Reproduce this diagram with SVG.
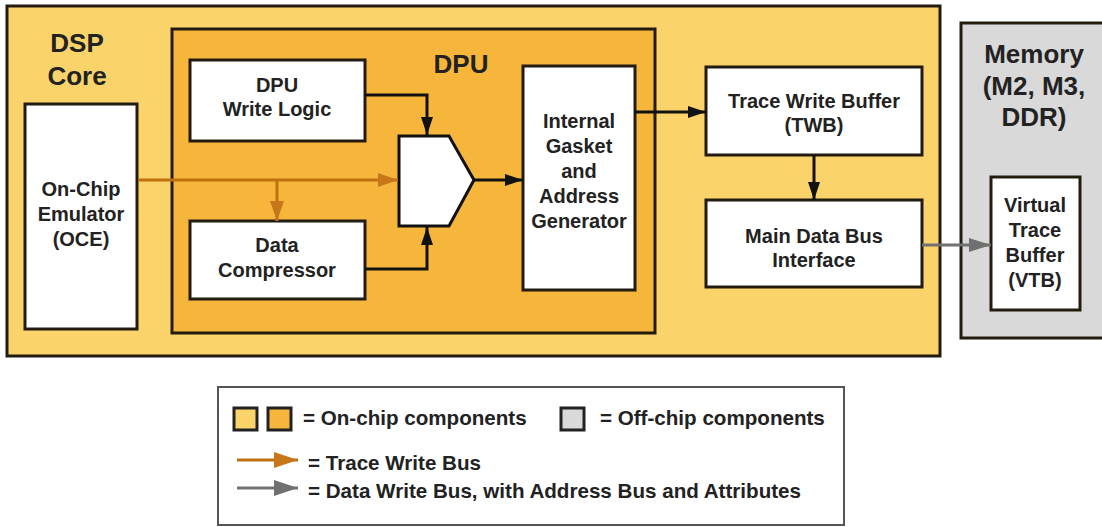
<svg xmlns="http://www.w3.org/2000/svg" width="1102" height="527" viewBox="0 0 1102 527">
<style>
text{font-family:"Liberation Sans",Arial,sans-serif;font-weight:bold;fill:#222;text-anchor:middle}
.t{font-size:20px}
.h{font-size:26px}
.l{font-size:20.6px;text-anchor:start}
.box{fill:#fff;stroke:#231a10;stroke-width:3}
.dsp{fill:#FAD46A;stroke:#231a10;stroke-width:3}
.dpu{fill:#F6B63C;stroke:#231a10;stroke-width:3}
.mem{fill:#D9D9D9;stroke:#231a10;stroke-width:3}
.k{fill:none;stroke:#111;stroke-width:3}
.o{fill:none;stroke:#C0700F;stroke-width:3}
.g{fill:none;stroke:#707070;stroke-width:3}
</style>
<defs>
<marker id="ak" markerUnits="userSpaceOnUse" markerWidth="18" markerHeight="12" refX="18" refY="6" orient="auto"><path d="M0,0 L18,6 L0,12 z" fill="#111"/></marker>
<marker id="ao" markerUnits="userSpaceOnUse" markerWidth="20" markerHeight="14" refX="20" refY="7" orient="auto"><path d="M0,0 L20,7 L0,14 z" fill="#C8761A"/></marker>
<marker id="ag" markerUnits="userSpaceOnUse" markerWidth="22" markerHeight="14" refX="22" refY="7" orient="auto"><path d="M0,0 L22,7 L0,14 z" fill="#707070"/></marker>
<marker id="ao2" markerUnits="userSpaceOnUse" markerWidth="24" markerHeight="16" refX="24" refY="8" orient="auto"><path d="M0,0 L24,8 L0,16 z" fill="#C8761A"/></marker>
<marker id="ag2" markerUnits="userSpaceOnUse" markerWidth="24" markerHeight="16" refX="24" refY="8" orient="auto"><path d="M0,0 L24,8 L0,16 z" fill="#707070"/></marker>
</defs>
<rect width="1102" height="527" fill="#fff"/>
<g id="dsp-core">
<rect class="dsp" x="7" y="6" width="933" height="350"/>
<text class="h" x="77" y="52">DSP</text>
<text class="h" x="77" y="85">Core</text>
</g>
<g id="memory">
<rect class="mem" x="961" y="23" width="150" height="315"/>
<text class="h" x="1034" y="63">Memory</text>
<text class="h" x="1034" y="95">(M2, M3,</text>
<text class="h" x="1034" y="126">DDR)</text>
</g>
<g id="dpu">
<rect class="dpu" x="172" y="29" width="483" height="304"/>
<text class="h" x="461" y="73">DPU</text>
</g>
<g id="oce">
<rect class="box" x="25" y="104" width="112" height="225"/>
<text class="t" x="81" y="196">On-Chip</text>
<text class="t" x="81" y="221">Emulator</text>
<text class="t" x="81" y="246">(OCE)</text>
</g>
<g id="dpu-write-logic">
<rect class="box" x="190" y="60" width="175" height="81"/>
<text class="t" x="277" y="92">DPU</text>
<text class="t" x="277" y="116">Write Logic</text>
</g>
<g id="data-compressor">
<rect class="box" x="190" y="221" width="175" height="78"/>
<text class="t" x="277" y="252">Data</text>
<text class="t" x="277" y="277">Compressor</text>
</g>
<g id="mux">
<path d="M399,136 H449 L474,180 L449,226 H399 Z" fill="#fff" stroke="#111" stroke-width="3"/>
</g>
<g id="gasket">
<rect class="box" x="523" y="66" width="112" height="224"/>
<text class="t" x="579" y="128">Internal</text>
<text class="t" x="579" y="153">Gasket</text>
<text class="t" x="579" y="178">and</text>
<text class="t" x="579" y="203">Address</text>
<text class="t" x="579" y="228">Generator</text>
</g>
<g id="twb">
<rect class="box" x="706" y="67" width="216" height="88"/>
<text class="t" x="814" y="108">Trace Write Buffer</text>
<text class="t" x="814" y="132">(TWB)</text>
</g>
<g id="main-bus">
<rect class="box" x="706" y="200" width="216" height="87"/>
<text class="t" x="814" y="243">Main Data Bus</text>
<text class="t" x="814" y="267">Interface</text>
</g>
<g id="vtb">
<rect class="box" x="991" y="177" width="89" height="133"/>
<text class="t" x="1035" y="212">Virtual</text>
<text class="t" x="1035" y="237">Trace</text>
<text class="t" x="1035" y="262">Buffer</text>
<text class="t" x="1035" y="287">(VTB)</text>
</g>
<g id="connectors">
<path class="o" d="M138,180 H398" marker-end="url(#ao)"/>
<path class="o" d="M277,180 V221" marker-end="url(#ao)"/>
<path class="k" d="M365,95 H427 V135" marker-end="url(#ak)"/>
<path class="k" d="M365,269 H427 V227" marker-end="url(#ak)"/>
<path class="k" d="M474,180 H523" marker-end="url(#ak)"/>
<path class="k" d="M635,112 H706" marker-end="url(#ak)"/>
<path class="k" d="M814,155 V200" marker-end="url(#ak)"/>
<path class="g" d="M922,245 H991" marker-end="url(#ag)"/>
</g>
<g id="legend">
<rect x="218" y="387" width="626" height="138" fill="#fff" stroke="#555" stroke-width="2"/>
<rect x="234" y="408" width="23" height="22" fill="#FAD46A" stroke="#222" stroke-width="3"/>
<rect x="268" y="408" width="23" height="22" fill="#F6B63C" stroke="#222" stroke-width="3"/>
<text class="l" x="303" y="425">= On-chip components</text>
<rect x="561" y="408" width="23" height="22" fill="#D9D9D9" stroke="#222" stroke-width="3"/>
<text class="l" x="600" y="425">= Off-chip components</text>
<path class="o" d="M237,460 H298" marker-end="url(#ao2)"/>
<text class="l" x="308" y="470">= Trace Write Bus</text>
<path class="g" d="M237,488 H298" marker-end="url(#ag2)"/>
<text class="l" x="308" y="498">= Data Write Bus, with Address Bus and Attributes</text>
</g>
</svg>
